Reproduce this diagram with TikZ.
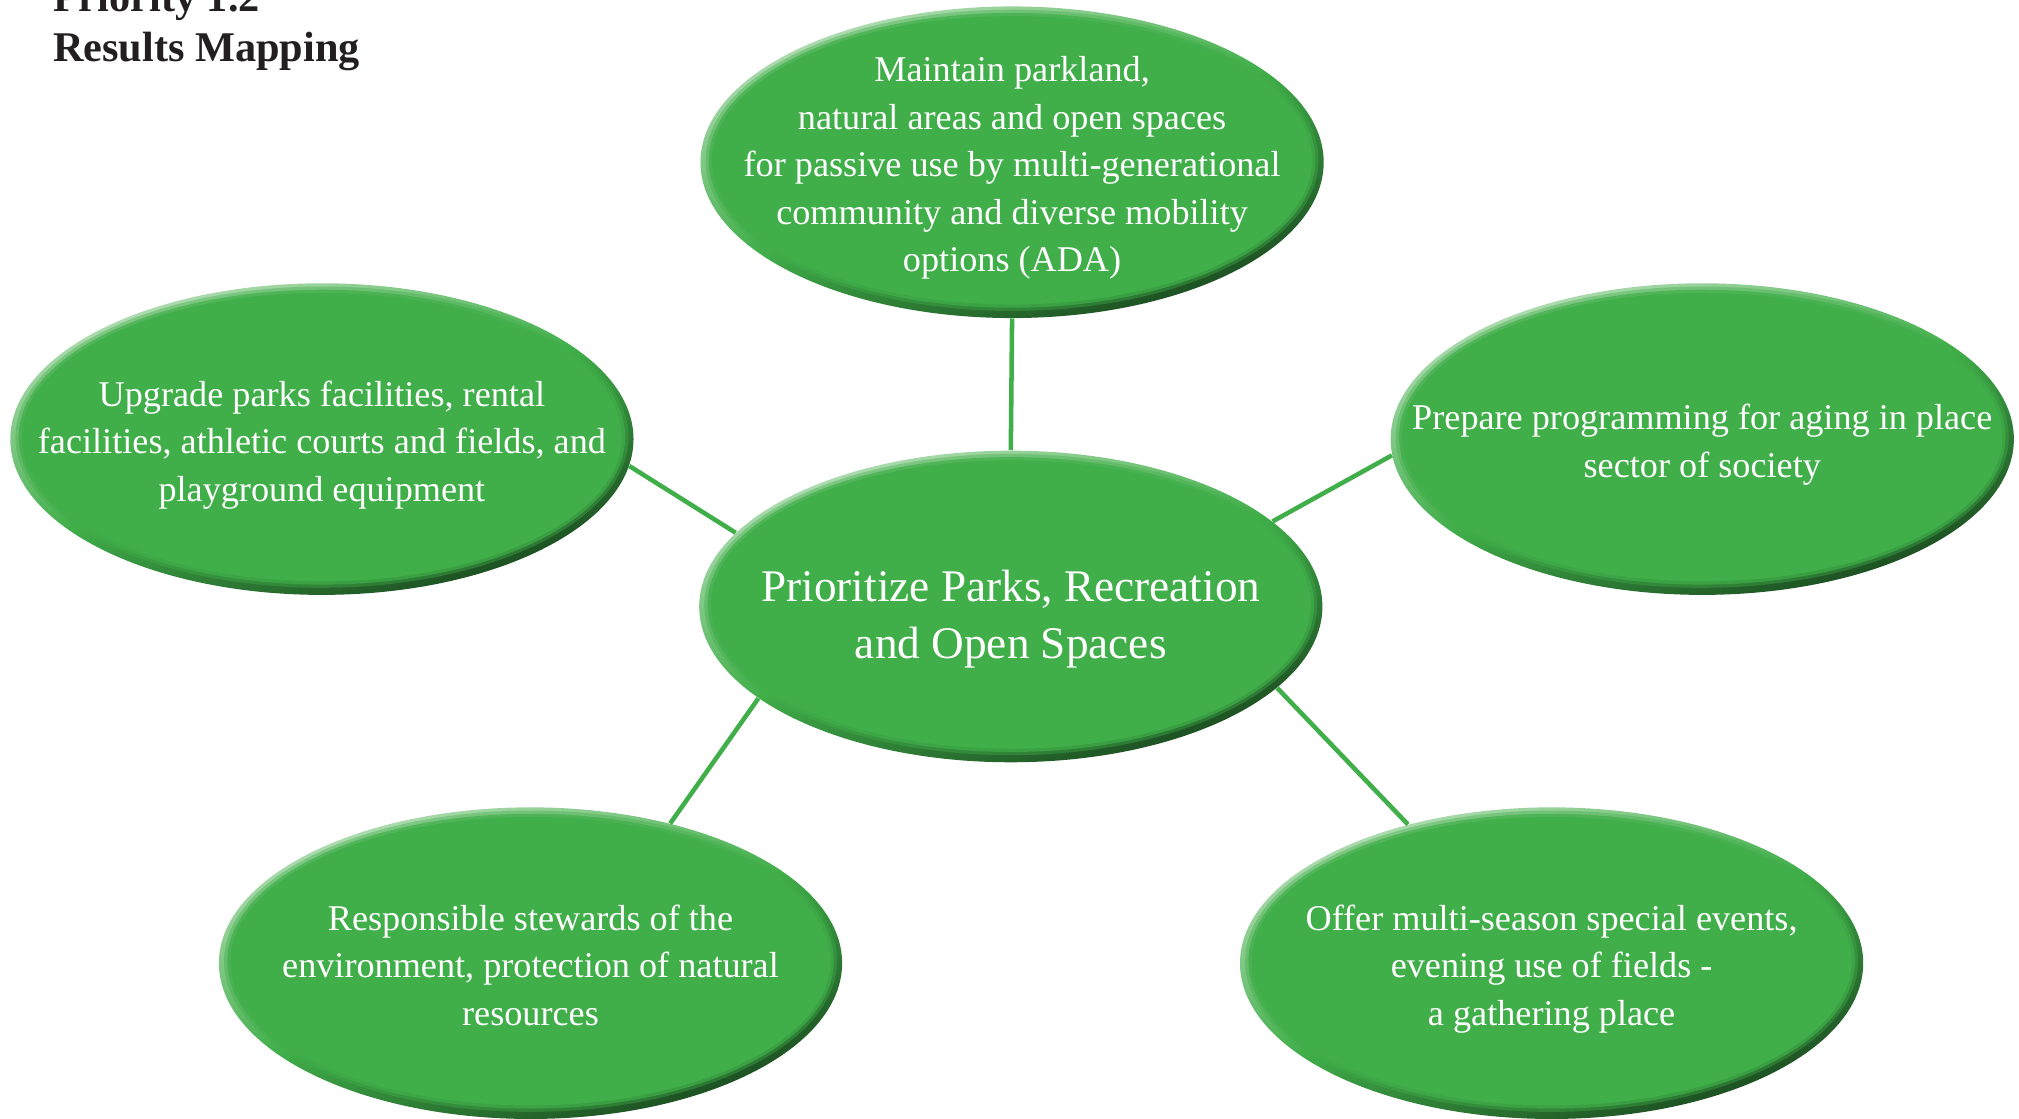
\documentclass[tikz,border=0pt]{standalone}
\usepackage{fontspec}
\setmainfont{Liberation Serif}
\usepackage{tikz}
\usepackage{xcolor}
\usetikzlibrary{shapes.geometric, positioning}
\definecolor{parkgreen}{HTML}{40AE49}
\definecolor{parkdark}{HTML}{1B4A20}
\definecolor{parklight}{HTML}{B4DEB6}
\definecolor{titlegray}{HTML}{231F20}
\newcommand{\blobtxt}[2][6.5pt]{\makebox[0pt]{\smash{\raisebox{-#1}{\begin{tabular}{@{}c@{}}#2\end{tabular}}}}}

\begin{document}
\begin{tikzpicture}[
    blob/.style={ellipse, minimum width=9.68cm, minimum height=4.84cm, inner sep=0pt,
      top color=parklight, bottom color=parkdark, middle color=parkgreen, shading angle=20,
      text=white, font=\fontsize{16}{21}\selectfont,
      path picture={
        \foreach \r/\o in {0.08/0.4, 0.13/0.7, 0.18/1}
          \fill[parkgreen, opacity=\o] ([yshift=0.03cm]path picture bounding box.center)
            ellipse [x radius=4.84cm-\r cm, y radius=2.42cm-\r cm];
      }},
    hub/.style={blob, font=\fontsize{20}{25}\selectfont},
    link/.style={parkgreen, line width=2pt}
  ]
  \useasboundingbox (0,0) rectangle (31.36,-17.38);

  \node[anchor=base west, align=left, text=titlegray, font=\bfseries\fontsize{18.7}{22.2}\selectfont]
    (ttl) at (0.7,-0.96) {Priority 1.2\\Results Mapping};

  \node[hub] (ppr) at (15.70,-9.42) {\blobtxt[10.7pt]{Prioritize Parks, Recreation\\and Open Spaces}};
  \node[blob] (mpl) at (15.72,-2.52) {\blobtxt{Maintain parkland,\\natural areas and open spaces\\for passive use by multi-generational\\community and diverse mobility\\options (ADA)}};
  \node[blob] (upg) at (5.00,-6.82) {\blobtxt{Upgrade parks facilities, rental\\facilities, athletic courts and fields, and\\playground equipment}};
  \node[blob] (prp) at (26.44,-6.82) {\blobtxt{Prepare programming for aging in place\\sector of society}};
  \node[blob] (rse) at (8.24,-14.96) {\blobtxt{Responsible stewards of the\\environment, protection of natural\\resources}};
  \node[blob] (oms) at (24.10,-14.96) {\blobtxt{Offer multi-season special events,\\evening use of fields -\\a gathering place}};

  \draw[link]
    (ppr.90) edge (mpl.-90)
    (ppr.165) edge (upg.-5)
    (ppr.18) edge (prp.183)
    (ppr.200) edge (rse.45)
    (ppr.-17) edge (oms.136);
\end{tikzpicture}
\end{document}
